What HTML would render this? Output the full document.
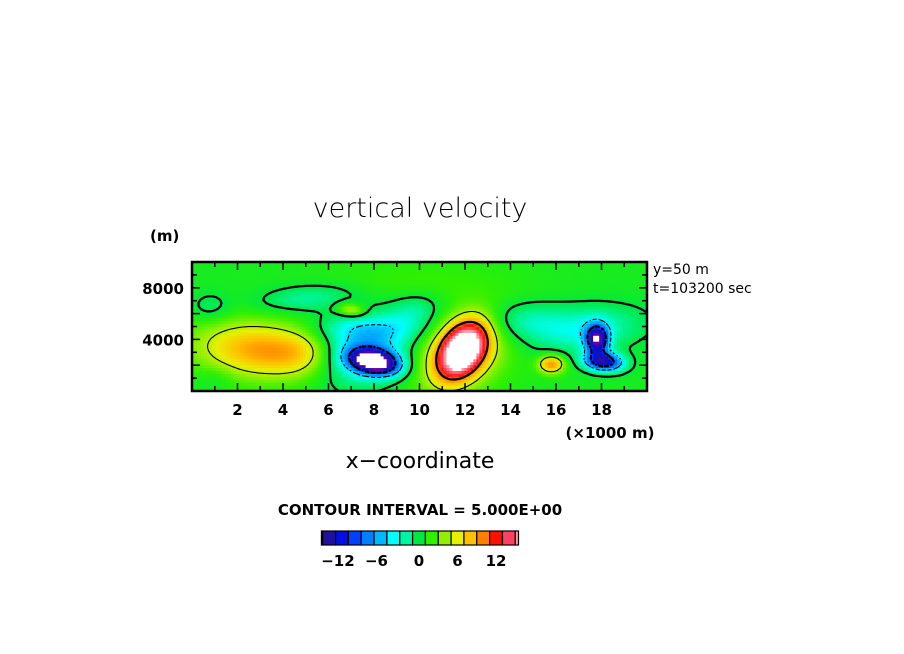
<!DOCTYPE html>
<html><head><meta charset="utf-8"><style>
html,body{margin:0;padding:0;background:#fff;}
svg{display:block;font-family:"DejaVu Sans","Liberation Sans",sans-serif;}
</style></head><body>
<svg id="chart" width="904" height="654" viewBox="0 0 904 654">
<text x="420" y="217" font-size="27" text-anchor="middle" font-weight="300">vertical velocity</text>
<text x="150" y="241" font-size="15" font-weight="bold">(m)</text>
<text x="653" y="274" font-size="14">y=50 m</text>
<text x="653" y="293" font-size="14">t=103200 sec</text>
<g id="field"></g>
<g id="contours"></g>
<g id="axes"></g>
<text x="610" y="438" font-size="15" font-weight="bold" text-anchor="middle">(×1000 m)</text>
<text x="420" y="468" font-size="22" text-anchor="middle">x−coordinate</text>
<text x="420" y="515" font-size="15" font-weight="bold" text-anchor="middle">CONTOUR INTERVAL = 5.000E+00</text>
<g id="colorbar"></g>
</svg>
<script>
// blob data describing the field (x in km, z in km, amplitude in m/s, tilt in degrees)
const blobX    = [3.0, 5.0, 8.0, 7.6, 7.8, 11.9, 11.6, 15.8, 17.8, 18.1, 17.2, 5.0, 10.0, 7.0, 1.0, 14.5, 9.8, 0.8];
const blobZ    = [3.2, 3.0, 2.3, 3.0, 4.8, 3.2,  3.0,  2.1,  4.0,  2.3,  4.8,  7.2, 8.5,  6.3, 1.0, 5.5, 6.2, 6.5];
const blobAmp  = [8.0, 3.0, -19, -7,  -3,  19,   6,    8.5,  -15,  -14,  -4.5, -3,  1.0,  5,   -1,  -3,  -3, -2];
const blobSx   = [2.0, 1.0, 0.8, 1.6, 1.8, 0.65, 1.5,  0.4,  0.35, 0.6,  1.8,  1.5, 3.0,  0.45,0.6, 1.2, 0.8, 0.6];
const blobSz   = [1.5, 1.3, 0.6, 1.8, 0.8, 1.5,  2.2,  0.5,  0.8,  0.5,  1.2,  0.7, 1.2,  0.35,0.7, 1.0, 1.0, 0.8];
const blobTilt = [15,  0,   35,  30,  0,   12,   20,   0,    0,    20,   -15,  -10, 0,    30,  0,   0,   30,  0];
const baseValue = 1.0;
const xTicks = [2,4,6,8,10,12,14,16,18];
const yTicks = [4000,8000];
const cbTicks = [-12,-6,0,6,12];
const cbLevels = [-16,-14,-12,-10,-8,-6,-4,-2,0,2,4,6,8,10,12,14,16];
const cbColors = ["#6a00b0","#2010a0","#0010e0","#0040ff","#0080ff","#00b8ff","#00ffff","#00f5a0","#00e840","#30f000","#90f000","#e8f000","#ffc000","#ff8000","#ff1000","#ff4060","#ff9aa0"];

const NS="http://www.w3.org/2000/svg";
const X0=192,X1=647,Y0=391,Y1=262;
const sx=v=>X0+(v/20)*(X1-X0);
const sy=v=>Y0-(v/10000)*(Y0-Y1);
function mk(t,a,p){const e=document.createElementNS(NS,t);for(const k in a)e.setAttribute(k,a[k]);p.appendChild(e);return e;}
function field(x,zm){const z=zm/1000;let v=baseValue;for(let i=0;i<blobX.length;i++){
  const th=blobTilt[i]*Math.PI/180,c=Math.cos(th),s=Math.sin(th);
  const ux=x-blobX[i],uz=z-blobZ[i];
  const rx=(ux*c-uz*s)/blobSx[i],rz=(ux*s+uz*c)/blobSz[i];
  v+=blobAmp[i]*Math.exp(-0.5*(rx*rx+rz*rz));}return v;}
function hex(h){return [1,3,5].map(i=>parseInt(h.substr(i,2),16));}
function color(v){
  if(v>16.5||v<-16.5) return "#ffffff";
  const t=(v+16)/2; let i=Math.floor(t); if(i<0)return cbColors[0]; if(i>=cbColors.length-1)return cbColors[cbColors.length-1];
  const f=t-i,a=hex(cbColors[i]),b=hex(cbColors[i+1]);
  return "rgb("+a.map((c,k)=>Math.round(c+(b[k]-c)*f)).join(",")+")";
}
const NX=152,NZ=44, F=document.getElementById('field');
const grid=[];
for(let j=0;j<=NZ;j++){grid[j]=[];for(let i=0;i<=NX;i++)grid[j][i]=field(20*i/NX,10000*j/NZ);}
for(let j=0;j<NZ;j++)for(let i=0;i<NX;i++){
  const v=field(20*(i+0.5)/NX,10000*(j+0.5)/NZ);
  const x0=sx(20*i/NX),x1=sx(20*(i+1)/NX),y0=sy(10000*(j+1)/NZ),y1=sy(10000*j/NZ);
  const r=mk('rect',{x:x0.toFixed(2),y:y0.toFixed(2),width:(x1-x0+0.5).toFixed(2),height:(y1-y0+0.5).toFixed(2),fill:color(v)},F);
  
  
}
const C=document.getElementById('contours');
const levels=[-10,-5,0,5,10];
levels.forEach(L=>{
  let d="";
  const px=i=>sx(20*i/NX),pz=j=>sy(10000*j/NZ);
  for(let j=0;j<NZ;j++)for(let i=0;i<NX;i++){
    const a=grid[j][i],b=grid[j][i+1],c=grid[j+1][i+1],e=grid[j+1][i];
    const pts=[];
    const edge=(v1,v2,x1,y1,x2,y2)=>{if((v1<L)!==(v2<L)){const t=(L-v1)/(v2-v1);pts.push([x1+(x2-x1)*t,y1+(y2-y1)*t]);}};
    edge(a,b,px(i),pz(j),px(i+1),pz(j));
    edge(b,c,px(i+1),pz(j),px(i+1),pz(j+1));
    edge(c,e,px(i+1),pz(j+1),px(i),pz(j+1));
    edge(e,a,px(i),pz(j+1),px(i),pz(j));
    for(let k=0;k+1<pts.length;k+=2){
      if(L<0 && (i+j)%2===1) continue; // dashed appearance for negative contours
      d+="M"+pts[k][0].toFixed(1)+" "+pts[k][1].toFixed(1)+"L"+pts[k+1][0].toFixed(1)+" "+pts[k+1][1].toFixed(1);
    }
  }
  const thick=(L%10===0);
  const p=mk('path',{d:d,fill:"none",stroke:"#000","stroke-width":thick?2.2:1.1,"stroke-linecap":"round"},C);
  
  
});
const A=document.getElementById('axes');
const fr=mk('rect',{x:X0,y:Y1,width:X1-X0,height:Y0-Y1,fill:"none",stroke:"#000","stroke-width":2.5},A);


for(let v=1;v<20;v++){const maj=v%2===0,L=maj?8:5;
  mk('line',{x1:sx(v),x2:sx(v),y1:Y0,y2:Y0-L,stroke:"#000","stroke-width":1.5},A);
  mk('line',{x1:sx(v),x2:sx(v),y1:Y1,y2:Y1+L,stroke:"#000","stroke-width":1.5},A);}
for(let v=1000;v<10000;v+=1000){const maj=v%2000===0,L=maj?8:5;
  mk('line',{x1:X0,x2:X0+L,y1:sy(v),y2:sy(v),stroke:"#000","stroke-width":1.5},A);
  mk('line',{x1:X1,x2:X1-L,y1:sy(v),y2:sy(v),stroke:"#000","stroke-width":1.5},A);}
xTicks.forEach(v=>{const t=mk('text',{x:sx(v),y:415,"font-size":15,"font-weight":"bold","text-anchor":"middle"},A);t.textContent=v;
  
  });
yTicks.forEach(v=>{const t=mk('text',{x:184,y:sy(v)+6,"font-size":15,"font-weight":"bold","text-anchor":"end"},A);t.textContent=v;
  
  });
const CB=document.getElementById('colorbar');
const cx=v=>419+(v)*6.42, CY0=531,CY1=545;
for(let k=0;k<cbColors.length;k++){
  let lo=cbLevels[k]-1, hi=cbLevels[k]+1;
  if(k===0)lo=-15.2; if(k===cbColors.length-1)hi=15.5;
  if(hi<=lo)continue;
  const r=mk('rect',{x:cx(lo),y:CY0,width:cx(hi)-cx(lo),height:CY1-CY0,fill:cbColors[k],stroke:"#000","stroke-width":1.2},CB);
  
  
}
cbTicks.forEach(v=>{const t=mk('text',{x:cx(v)+(v<0?-4:0),y:566,"font-size":15,"font-weight":"bold","text-anchor":"middle"},CB);t.textContent=(v<0?"−"+(-v):v);
  
  });
</script>
</body></html>
